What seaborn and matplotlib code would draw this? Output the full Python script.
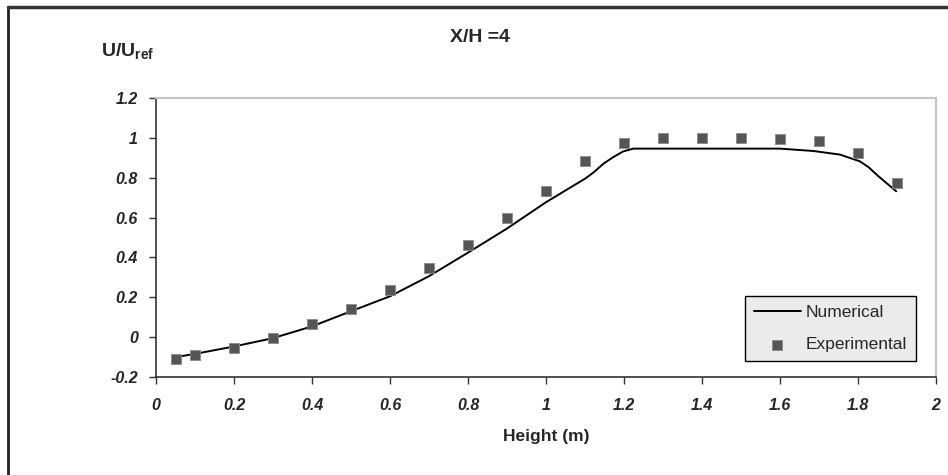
import matplotlib
matplotlib.use("Agg")
import matplotlib.pyplot as plt
import seaborn as sns
import pandas as pd

# ---- data ----
num_x = [0.057, 0.1, 0.2, 0.3, 0.4, 0.5, 0.6, 0.7, 0.8, 0.9, 1.0, 1.1, 1.121,
         1.147, 1.173, 1.198, 1.224, 1.3, 1.4, 1.5, 1.6, 1.686, 1.754, 1.805,
         1.827, 1.852, 1.898]
num_y = [-0.098, -0.084, -0.047, -0.005, 0.054, 0.13, 0.205, 0.306, 0.424,
         0.545, 0.677, 0.795, 0.825, 0.87, 0.904, 0.932, 0.946, 0.946, 0.946,
         0.946, 0.946, 0.934, 0.916, 0.882, 0.853, 0.808, 0.732]

exp_x = [0.05, 0.1, 0.2, 0.3, 0.4, 0.5, 0.6, 0.7, 0.8, 0.9, 1.0, 1.1, 1.2,
         1.3, 1.4, 1.5, 1.6, 1.7, 1.8, 1.9]
exp_y = [-0.11, -0.089, -0.056, -0.005, 0.064, 0.141, 0.237, 0.348, 0.461,
         0.6, 0.735, 0.882, 0.975, 1.0, 1.0, 1.0, 0.993, 0.984, 0.924, 0.771]

x_ticks = [0, 0.2, 0.4, 0.6, 0.8, 1, 1.2, 1.4, 1.6, 1.8, 2]
x_labels = ["0", "0.2", "0.4", "0.6", "0.8", "1", "1.2", "1.4", "1.6", "1.8", "2"]
y_ticks = [-0.2, 0, 0.2, 0.4, 0.6, 0.8, 1, 1.2]
y_labels = ["-0.2", "0", "0.2", "0.4", "0.6", "0.8", "1", "1.2"]

num_df = pd.DataFrame({"Height": num_x, "U": num_y})
exp_df = pd.DataFrame({"Height": exp_x, "U": exp_y})

sns.set_style("white")
plt.rcParams["font.family"] = ["Liberation Sans", "DejaVu Sans"]
plt.rcParams["mathtext.fontset"] = "custom"
plt.rcParams["mathtext.bf"] = "Liberation Sans:bold"
plt.rcParams["mathtext.rm"] = "Liberation Sans"
plt.rcParams["mathtext.it"] = "Liberation Sans:italic"

fig = plt.figure(figsize=(9.48, 4.75), dpi=100)
ax = fig.add_axes([156 / 948, 1 - 377 / 475, (936 - 156) / 948, (377 - 98) / 475])

sns.lineplot(data=num_df, x="Height", y="U", ax=ax, color="black", lw=1.4,
             label="Numerical", sort=False)
sns.scatterplot(data=exp_df, x="Height", y="U", ax=ax, marker="s", s=58,
                color="#555555", edgecolor="#8a8a8a", linewidth=0.6,
                label="Experimental", zorder=3)

ax.set_xlim(0, 2)
ax.set_ylim(-0.2, 1.2)
ax.set_xticks(x_ticks)
ax.set_xticklabels(x_labels)
ax.set_yticks(y_ticks)
ax.set_yticklabels(y_labels)
for lab in ax.get_xticklabels() + ax.get_yticklabels():
    lab.set_fontweight("bold")
    lab.set_fontstyle("italic")
    lab.set_fontsize(11.5)
ax.tick_params(axis="both", which="major", direction="out", length=5,
               width=1, color="#333333", bottom=True, left=True)
ax.tick_params(axis="x", pad=10)
ax.tick_params(axis="y", pad=8)

for side in ["left", "bottom"]:
    ax.spines[side].set_color("#333333")
    ax.spines[side].set_linewidth(1.2)
for side in ["top", "right"]:
    ax.spines[side].set_color("#c4c4c4")
    ax.spines[side].set_linewidth(1.5)

ax.set_xlabel("")
ax.set_ylabel("")
fig.text(546 / 948, 1 - 436 / 475, "Height (m)", ha="center", va="center",
         fontsize=12.5, fontweight="bold")

fig.text(480 / 948, 1 - 37 / 475, "X/H =4", ha="center", va="center",
         fontsize=14, fontweight="bold")
fig.text(128 / 948, 1 - 51 / 475, r"$\mathbf{U/U_{ref}}$", ha="center",
         va="center", fontsize=14)

leg = ax.legend(loc="lower right",
                bbox_to_anchor=((916 - 156) / 780, (377 - 361) / 279),
                frameon=True, fancybox=False, fontsize=12.5, handlelength=2.7,
                handletextpad=0.3, borderpad=0.5, labelspacing=1.0,
                borderaxespad=0)
leg.get_frame().set_facecolor("#ebebeb")
leg.get_frame().set_edgecolor("black")
leg.get_frame().set_linewidth(1.0)
leg.get_frame().set_alpha(1)

# outer frame (left and top only visible)
fig.add_artist(plt.Line2D([8 / 948, 8 / 948], [0, 1 - 7 / 475],
                          transform=fig.transFigure, color="#222222", lw=2))
fig.add_artist(plt.Line2D([8 / 948, 1], [1 - 7 / 475, 1 - 7 / 475],
                          transform=fig.transFigure, color="#333333", lw=2.5))

fig.savefig("out.png", dpi=100)
